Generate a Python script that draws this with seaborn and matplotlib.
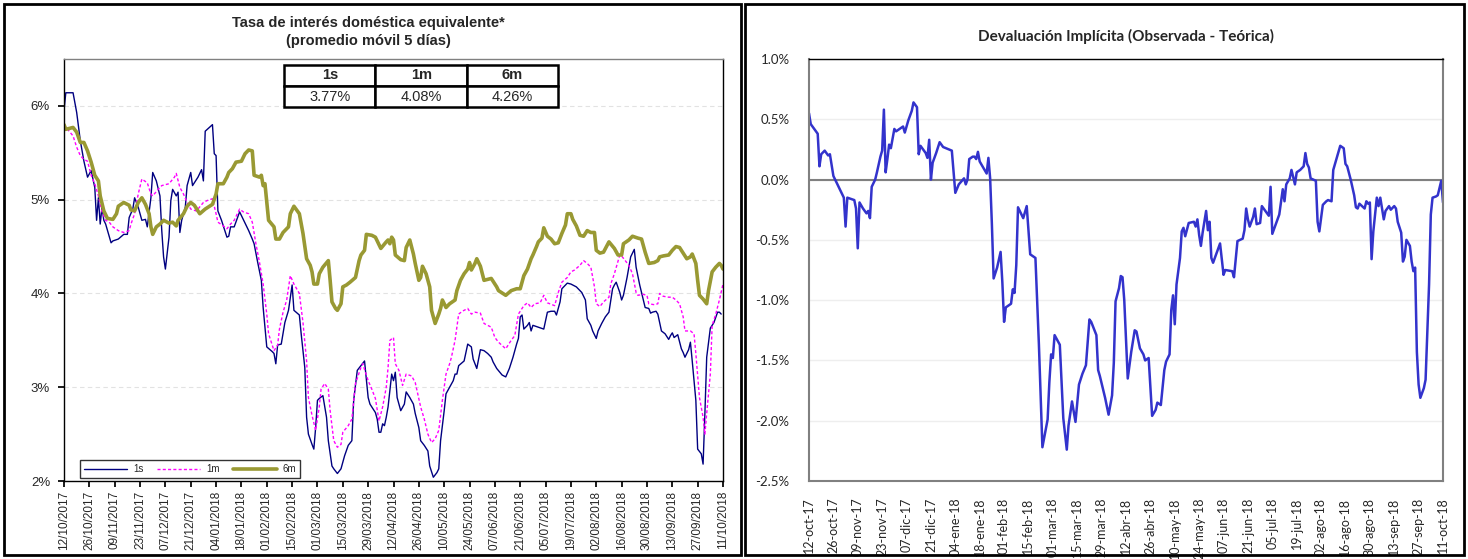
import pandas as pd
import matplotlib.pyplot as plt
import seaborn as sns
from matplotlib.patches import Rectangle
from matplotlib.ticker import FuncFormatter

sns.set_theme(style="white")
plt.rcParams['font.family'] = ['Liberation Sans', 'DejaVu Sans']
plt.rcParams['axes.unicode_minus'] = False

# Fecha base: los datos van en días contados desde el 12/10/2017
fecha0 = pd.Timestamp('2017-10-12')

# --- Tasa de interés doméstica equivalente (%) ---
dias_1s = [0, 1, 5, 7, 9, 11, 13, 15, 17, 18, 19, 20, 21, 22, 23, 26, 27, 30, 33, 35, 36, 38, 39, 41, 43, 45, 46,
           48, 49, 51, 53, 54, 55, 56, 58, 59, 60, 62, 63, 64, 65, 67, 68, 70, 71, 74, 76, 77, 78, 82, 83, 84, 85,
           87, 90, 91, 92, 94, 97, 99, 102, 104, 105, 107, 109, 110, 112, 115, 116, 117, 118, 120, 122, 124, 126,
           127, 130, 131, 133, 134, 135, 137, 138, 139, 140, 141, 143, 145, 146, 148, 149, 151, 153, 155, 157, 159,
           160, 162, 164, 166, 168, 169, 172, 173, 174, 175, 176, 177, 178, 179, 181, 182, 183, 184, 185, 186, 188,
           189, 191, 193, 194, 196, 197, 199, 201, 202, 204, 206, 207, 208, 210, 211, 213, 215, 216, 217, 218, 221,
           222, 223, 225, 226, 228, 230, 232, 234, 236, 237, 239, 242, 244, 246, 248, 250, 251, 252, 253, 254, 256,
           257, 258, 259, 262, 265, 267, 269, 271, 272, 274, 275, 278, 280, 283, 286, 288, 289, 291, 292, 294, 295,
           297, 299, 301, 303, 304, 305, 307, 308, 309, 311, 313, 315, 316, 318, 320, 321, 323, 324, 325, 327, 328,
           329, 330, 332, 334, 335, 336, 337, 339, 341, 342, 343, 345, 346, 347, 349, 350, 352, 353, 354, 355, 357,
           359, 361, 362, 363]
tasa_1s = [5.95, 6.14, 6.14, 5.93, 5.63, 5.41, 5.24, 5.31, 5.13, 4.78, 5.02, 4.74, 4.92, 4.78, 4.74, 4.54, 4.56,
           4.58, 4.63, 4.63, 4.81, 4.90, 5.02, 4.92, 4.78, 4.79, 4.71, 5.02, 5.29, 5.20, 5.04, 4.67, 4.39, 4.26,
           4.60, 4.99, 5.11, 5.04, 5.08, 4.65, 4.78, 4.92, 5.15, 5.29, 5.15, 5.24, 5.32, 5.20, 5.73, 5.80, 5.49,
           5.47, 4.88, 4.78, 4.60, 4.61, 4.71, 4.71, 4.87, 4.79, 4.67, 4.58, 4.53, 4.33, 4.14, 3.85, 3.43, 3.38,
           3.36, 3.25, 3.45, 3.46, 3.69, 3.82, 4.09, 3.82, 3.77, 3.57, 3.21, 2.68, 2.50, 2.39, 2.34, 2.57, 2.86,
           2.88, 2.91, 2.68, 2.43, 2.16, 2.13, 2.08, 2.13, 2.27, 2.38, 2.43, 2.86, 3.18, 3.23, 3.28, 2.89, 2.82,
           2.73, 2.66, 2.52, 2.52, 2.61, 2.59, 2.68, 2.79, 3.14, 3.07, 3.16, 2.89, 2.82, 2.75, 2.82, 2.95, 2.89,
           2.82, 2.72, 2.57, 2.43, 2.38, 2.32, 2.16, 2.04, 2.09, 2.13, 2.43, 2.75, 2.93, 3.00, 3.07, 3.14, 3.14,
           3.23, 3.28, 3.37, 3.46, 3.43, 3.30, 3.20, 3.40, 3.39, 3.36, 3.32, 3.27, 3.20, 3.13, 3.11, 3.20, 3.32,
           3.46, 3.52, 3.75, 3.77, 3.62, 3.66, 3.69, 3.60, 3.66, 3.64, 3.62, 3.80, 3.81, 3.81, 3.77, 3.91, 4.05,
           4.11, 4.10, 4.07, 4.01, 3.93, 3.73, 3.66, 3.60, 3.52, 3.60, 3.68, 3.75, 3.80, 4.05, 4.09, 4.12, 4.01,
           3.93, 3.98, 4.17, 4.39, 4.47, 4.28, 4.09, 3.93, 3.85, 3.84, 3.79, 3.80, 3.81, 3.78, 3.69, 3.60, 3.57,
           3.51, 3.55, 3.58, 3.53, 3.56, 3.41, 3.37, 3.32, 3.40, 3.48, 3.28, 2.86, 2.34, 2.29, 2.18, 2.72, 3.32,
           3.63, 3.69, 3.80, 3.80, 3.78]

dias_1m = [0, 2, 5, 7, 9, 11, 13, 15, 17, 19, 21, 23, 25, 27, 30, 33, 36, 37, 39, 41, 43, 46, 48, 49, 52, 54, 58,
           61, 62, 64, 66, 68, 70, 73, 74, 77, 79, 82, 84, 85, 88, 90, 92, 94, 97, 99, 102, 104, 106, 108, 110, 112,
           113, 115, 116, 118, 119, 121, 123, 125, 127, 130, 132, 134, 135, 137, 139, 141, 142, 144, 146, 147, 149,
           151, 153, 154, 157, 159, 161, 164, 165, 168, 170, 172, 174, 176, 178, 179, 180, 182, 183, 185, 187, 189,
           192, 194, 197, 199, 201, 203, 205, 207, 209, 211, 213, 214, 216, 218, 220, 223, 225, 227, 230, 232, 236,
           238, 240, 244, 247, 249, 251, 254, 256, 258, 260, 263, 265, 267, 271, 273, 275, 278, 280, 282, 285, 287,
           289, 291, 293, 294, 296, 298, 301, 302, 304, 307, 308, 310, 312, 314, 316, 317, 320, 322, 323, 326, 328,
           329, 331, 334, 336, 338, 340, 342, 343, 346, 348, 349, 351, 353, 354, 355, 357, 358, 360, 362, 364]
tasa_1m = [5.80, 5.75, 5.68, 5.56, 5.47, 5.43, 5.41, 5.26, 5.17, 5.04, 4.87, 4.78, 4.76, 4.71, 4.67, 4.65, 4.67,
           4.74, 4.85, 5.06, 5.22, 5.18, 5.06, 5.04, 5.11, 5.15, 5.17, 5.24, 5.28, 5.13, 5.06, 4.97, 4.90, 4.88,
           4.90, 4.97, 4.99, 5.01, 4.85, 4.76, 4.72, 4.69, 4.74, 4.78, 4.90, 4.87, 4.85, 4.76, 4.53, 4.33, 4.10,
           3.78, 3.57, 3.45, 3.39, 3.45, 3.62, 3.80, 3.93, 4.19, 4.10, 4.00, 3.69, 3.28, 2.89, 2.70, 2.54, 2.79,
           2.98, 3.04, 2.98, 2.75, 2.43, 2.36, 2.39, 2.52, 2.59, 2.66, 3.04, 3.21, 3.25, 3.07, 2.98, 2.88, 2.64,
           2.79, 3.00, 3.21, 3.50, 3.53, 3.25, 3.18, 3.02, 3.14, 3.12, 3.05, 2.79, 2.66, 2.50, 2.41, 2.45, 2.54,
           2.86, 3.14, 3.25, 3.32, 3.50, 3.78, 3.81, 3.84, 3.78, 3.80, 3.79, 3.68, 3.64, 3.53, 3.48, 3.41, 3.50,
           3.55, 3.78, 3.87, 3.90, 3.85, 3.89, 3.90, 3.98, 3.90, 3.87, 4.01, 4.12, 4.17, 4.23, 4.25, 4.30, 4.35,
           4.32, 4.28, 4.07, 3.89, 3.86, 3.91, 3.96, 4.10, 4.21, 4.41, 4.40, 4.35, 4.30, 4.21, 4.01, 3.98, 3.99,
           3.98, 3.89, 3.88, 3.89, 4.00, 3.97, 3.96, 3.96, 3.93, 3.89, 3.75, 3.60, 3.60, 3.57, 3.36, 2.89, 2.68,
           2.50, 2.72, 3.14, 3.66, 3.78, 3.93, 4.10]

dias_6m = [0, 1, 5, 7, 9, 11, 13, 15, 17, 19, 20, 22, 24, 27, 29, 30, 33, 36, 37, 39, 41, 43, 45, 47, 48, 49, 51,
           53, 55, 58, 60, 62, 63, 66, 68, 70, 72, 75, 78, 82, 84, 85, 88, 90, 91, 93, 95, 98, 100, 102, 104, 105,
           108, 109, 110, 111, 113, 116, 117, 119, 121, 124, 125, 127, 130, 132, 134, 136, 137, 138, 140, 141, 143,
           146, 147, 148, 150, 151, 153, 154, 156, 158, 161, 163, 164, 166, 167, 170, 172, 175, 178, 179, 180, 181,
           182, 183, 186, 188, 189, 191, 193, 194, 196, 197, 198, 200, 202, 203, 205, 207, 208, 209, 211, 213, 216,
           217, 219, 221, 223, 224, 225, 227, 228, 230, 232, 236, 239, 240, 244, 247, 250, 252, 254, 256, 258, 259,
           261, 262, 264, 265, 267, 269, 271, 273, 275, 277, 278, 280, 281, 283, 285, 287, 289, 291, 293, 294, 296,
           298, 301, 304, 306, 308, 309, 312, 314, 317, 319, 321, 323, 326, 328, 329, 331, 334, 336, 338, 340, 342,
           344, 346, 347, 349, 350, 351, 353, 355, 356, 358, 360, 362, 363, 364]
tasa_6m = [5.80, 5.75, 5.77, 5.72, 5.61, 5.61, 5.52, 5.40, 5.26, 5.20, 5.04, 4.88, 4.80, 4.79, 4.85, 4.93, 4.97,
           4.94, 4.89, 4.88, 4.97, 5.02, 4.95, 4.85, 4.71, 4.63, 4.71, 4.74, 4.78, 4.75, 4.76, 4.72, 4.78, 4.85,
           4.93, 4.97, 4.94, 4.85, 4.90, 4.95, 5.06, 5.17, 5.17, 5.24, 5.29, 5.33, 5.40, 5.41, 5.49, 5.53, 5.52,
           5.26, 5.24, 5.26, 5.15, 5.17, 4.78, 4.71, 4.58, 4.58, 4.65, 4.71, 4.85, 4.93, 4.85, 4.64, 4.37, 4.30,
           4.23, 4.10, 4.10, 4.21, 4.28, 4.35, 4.14, 3.91, 3.84, 3.82, 3.89, 4.07, 4.09, 4.12, 4.17, 4.35, 4.41,
           4.46, 4.63, 4.62, 4.60, 4.48, 4.55, 4.57, 4.53, 4.60, 4.57, 4.41, 4.36, 4.35, 4.49, 4.57, 4.42, 4.32,
           4.14, 4.17, 4.29, 4.21, 4.07, 3.82, 3.68, 3.78, 3.84, 3.93, 3.85, 3.89, 3.93, 4.03, 4.14, 4.21, 4.26,
           4.33, 4.25, 4.32, 4.37, 4.29, 4.14, 4.16, 4.07, 4.03, 3.98, 4.03, 4.05, 4.05, 4.19, 4.26, 4.37, 4.41,
           4.50, 4.55, 4.59, 4.70, 4.61, 4.58, 4.53, 4.54, 4.64, 4.73, 4.85, 4.85, 4.79, 4.72, 4.62, 4.61, 4.67,
           4.65, 4.65, 4.46, 4.43, 4.44, 4.55, 4.48, 4.41, 4.41, 4.53, 4.57, 4.61, 4.59, 4.58, 4.44, 4.32, 4.33,
           4.35, 4.39, 4.40, 4.41, 4.46, 4.50, 4.49, 4.43, 4.37, 4.39, 4.42, 4.32, 4.14, 3.98, 3.94, 3.89, 4.03,
           4.23, 4.28, 4.32, 4.30, 4.26]

plazos = ['1s', '1m', '6m']
ultimos = ['3.77%', '4.08%', '4.26%']

# --- Devaluación implícita (observada - teórica), % ---
dias_dev = [0, 1, 3, 5, 6, 7, 9, 11, 12, 14, 15, 17, 19, 20, 21, 22, 24, 26, 27, 28, 29, 31, 33, 34, 35, 36, 38,
            39, 41, 42, 43, 44, 45, 46, 47, 49, 50, 52, 54, 55, 57, 59, 60, 62, 63, 64, 67, 68, 69, 70, 71, 73, 75,
            77, 82, 84, 86, 89, 90, 91, 92, 94, 95, 96, 97, 98, 100, 102, 103, 104, 105, 106, 108, 110, 111, 112,
            113, 116, 117, 118, 119, 120, 123, 125, 127, 130, 132, 134, 137, 138, 139, 140, 141, 144, 146, 148, 149,
            151, 153, 155, 157, 159, 161, 162, 165, 166, 167, 170, 172, 174, 175, 176, 178, 179, 180, 181, 183, 185,
            187, 188, 190, 192, 193, 195, 197, 199, 200, 202, 204, 205, 207, 208, 209, 210, 211, 213, 214, 215, 216,
            218, 221, 222, 223, 224, 225, 226, 228, 229, 230, 231, 232, 234, 236, 238, 239, 243, 244, 246, 249, 250,
            251, 252, 253, 255, 256, 257, 259, 260, 262, 264, 265, 266, 268, 270, 272, 273, 274, 276, 277, 279, 280,
            282, 284, 285, 286, 287, 288, 291, 292, 293, 295, 297, 298, 300, 301, 303, 304, 305, 307, 308, 309, 311,
            313, 314, 315, 316, 319, 320, 321, 322, 323, 324, 326, 327, 328, 330, 331, 333, 334, 336, 337, 338, 340,
            341, 342, 343, 345, 346, 347, 348, 349, 350, 351, 353, 354, 356, 357, 358, 360, 361, 363, 364]
devaluacion = [0.55, 0.46, 0.42, 0.38, 0.11, 0.21, 0.24, 0.20, 0.21, 0.03, 0.00, -0.06, -0.12, -0.15, -0.39, -0.15,
               -0.16, -0.17, -0.24, -0.57, -0.19, -0.24, -0.28, -0.26, -0.32, -0.06, 0.00, 0.06, 0.19, 0.24, 0.58,
               0.06, 0.17, 0.29, 0.26, 0.42, 0.40, 0.42, 0.44, 0.39, 0.49, 0.57, 0.64, 0.60, 0.21, 0.28, 0.22, 0.18,
               0.33, 0.00, 0.14, 0.22, 0.31, 0.27, 0.24, -0.11, -0.04, 0.01, -0.04, 0.00, 0.17, 0.19, 0.19, 0.17,
               0.23, 0.15, 0.10, 0.05, 0.18, 0.01, -0.37, -0.82, -0.73, -0.60, -0.85, -1.18, -1.06, -1.03, -0.91,
               -0.94, -0.71, -0.23, -0.32, -0.22, -0.62, -0.65, -1.37, -2.22, -1.99, -1.68, -1.45, -1.48, -1.29,
               -1.37, -1.98, -2.24, -2.04, -1.84, -2.01, -1.70, -1.61, -1.54, -1.16, -1.18, -1.29, -1.58, -1.63,
               -1.81, -1.95, -1.79, -1.52, -1.01, -0.90, -0.80, -0.81, -1.00, -1.65, -1.43, -1.25, -1.26, -1.40,
               -1.45, -1.50, -1.48, -1.96, -1.91, -1.85, -1.87, -1.58, -1.51, -1.45, -1.08, -0.96, -1.20, -0.87,
               -0.65, -0.43, -0.40, -0.47, -0.36, -0.35, -0.39, -0.33, -0.46, -0.55, -0.44, -0.26, -0.42, -0.35,
               -0.65, -0.69, -0.61, -0.53, -0.79, -0.75, -0.76, -0.81, -0.51, -0.49, -0.42, -0.24, -0.33, -0.39,
               -0.31, -0.24, -0.37, -0.36, -0.22, -0.26, -0.30, -0.06, -0.45, -0.37, -0.29, -0.08, -0.18, -0.04,
               0.01, 0.08, -0.04, 0.06, 0.08, 0.11, 0.22, 0.13, 0.10, 0.01, -0.01, -0.35, -0.43, -0.21, -0.18,
               -0.17, -0.18, 0.08, 0.18, 0.23, 0.28, 0.26, 0.13, 0.11, 0.00, -0.13, -0.23, -0.24, -0.20, -0.24,
               -0.18, -0.20, -0.19, -0.66, -0.43, -0.15, -0.22, -0.15, -0.33, -0.26, -0.22, -0.25, -0.22, -0.24,
               -0.35, -0.44, -0.68, -0.64, -0.50, -0.55, -0.68, -0.76, -0.73, -1.43, -1.70, -1.81, -1.73, -1.66,
               -0.87, -0.29, -0.15, -0.14, -0.13, -0.01, -0.19]

meses = {1: 'ene', 2: 'feb', 3: 'mar', 4: 'abr', 5: 'may', 6: 'jun',
         7: 'jul', 8: 'ago', 9: 'sep', 10: 'oct', 11: 'nov', 12: 'dic'}


def fechas(dias):
    return fecha0 + pd.to_timedelta(dias, unit='D')


W, H = 1468, 559
fig = plt.figure(figsize=(W / 100, H / 100), dpi=100)
fig.patch.set_facecolor('white')

# marcos negros de cada panel
fig.add_artist(Rectangle((4 / W, 4 / H), 737 / W, 551 / H, transform=fig.transFigure,
                         fill=False, edgecolor='black', lw=2))
fig.add_artist(Rectangle((745 / W, 4 / H), 719 / W, 551 / H, transform=fig.transFigure,
                         fill=False, edgecolor='black', lw=2))

ax1 = fig.add_axes([64 / W, 78 / H, 659 / W, 422 / H])
ax2 = fig.add_axes([809 / W, 78 / H, 634 / W, 422 / H])

# ---------------- Panel izquierdo ----------------
sns.lineplot(x=fechas(dias_1s), y=tasa_1s, ax=ax1, color='#000080', lw=1.0,
             estimator=None, sort=False, label='1s')
sns.lineplot(x=fechas(dias_1m), y=tasa_1m, ax=ax1, color='#ff00ff', lw=1.0,
             linestyle=(0, (2.2, 1.6)), estimator=None, sort=False, label='1m')
sns.lineplot(x=fechas(dias_6m), y=tasa_6m, ax=ax1, color='#999933', lw=2.6,
             estimator=None, sort=False, label='6m')

ax1.set_ylim(2, 6.5)
ax1.set_yticks([2, 3, 4, 5, 6])
ax1.yaxis.set_major_formatter(FuncFormatter(lambda v, _: f'{v:.0f}%'))
ax1.set_xlim(fechas([0])[0], fechas([364])[0])
ticks1 = fechas(list(range(0, 365, 14)))
ax1.set_xticks(ticks1)
ax1.set_xticklabels([t.strftime('%d/%m/%Y') for t in ticks1], rotation=90, fontsize=8.5)
ax1.tick_params(axis='y', labelsize=9.5, left=True, length=4, color='black', pad=6)
ax1.tick_params(axis='x', bottom=True, length=4, color='black', pad=3)
ax1.grid(axis='y', linestyle=(0, (4, 3)), color='#e2e2e2', lw=0.8)
ax1.set_xlabel('')
ax1.set_ylabel('')
for lado, sp in ax1.spines.items():
    sp.set_color('#808080' if lado == 'top' else 'black')
    sp.set_linewidth(1.0)

leg = ax1.legend(loc='lower left', bbox_to_anchor=(0.024, 0.007, 0.334, 0.059), mode='expand',
                 ncol=3, fontsize=7, frameon=True, fancybox=False, edgecolor='black',
                 handlelength=4.5, borderaxespad=0, handletextpad=0.6)
leg.get_frame().set_linewidth(1.0)

tabla = ax1.table(cellText=[plazos, ultimos], cellLoc='center',
                  bbox=[0.334, 0.886, 0.416, 0.100])
tabla.auto_set_font_size(False)
tabla.set_fontsize(10.5)
tabla.set_zorder(5)
for (fila, col), celda in tabla.get_celld().items():
    celda.set_linewidth(1.8)
    celda.set_edgecolor('black')
    celda.set_facecolor('white')
    if fila == 0:
        celda.get_text().set_fontweight('bold')

fig.text(368 / W, 1 - 32 / H, 'Tasa de interés doméstica equivalente*\n(promedio móvil 5 días)',
         ha='center', va='center', fontsize=10.5, fontweight='bold', linespacing=1.45)

# ---------------- Panel derecho ----------------
sns.lineplot(x=fechas(dias_dev), y=devaluacion, ax=ax2, color='#3333cc', lw=1.8,
             estimator=None, sort=False)
ax2.axhline(0, color='#808080', lw=1.5, zorder=1)
ax2.set_ylim(-2.5, 1.0)
ax2.set_yticks([-2.5, -2.0, -1.5, -1.0, -0.5, 0.0, 0.5, 1.0])
ax2.yaxis.set_major_formatter(FuncFormatter(lambda v, _: f'{v:.1f}%'))
ax2.set_xlim(fechas([0])[0], fechas([364])[0])
ticks2 = fechas(list(range(0, 365, 14)))
ax2.set_xticks(ticks2)
ax2.set_xticklabels([f'{t:%d}-{meses[t.month]}-{t:%y}' for t in ticks2], rotation=90,
                    fontsize=9, family=['Lato', 'DejaVu Sans'])
for lab in ax2.get_yticklabels():
    lab.set_family(['Lato', 'DejaVu Sans'])
ax2.tick_params(axis='y', labelsize=9.5, left=False, pad=8)
ax2.tick_params(axis='x', bottom=False, pad=6)
ax2.grid(axis='y', color='#eeeeee', lw=1.0)
ax2.set_xlabel('')
ax2.set_ylabel('')
for lado, sp in ax2.spines.items():
    sp.set_color('black' if lado == 'top' else '#808080')
    sp.set_linewidth(1.0 if lado == 'top' else 1.5)

fig.text(1126 / W, 1 - 36 / H, 'Devaluación Implícita (Observada - Teórica)', ha='center', va='center',
         fontsize=11, fontweight='bold', family=['Lato', 'DejaVu Sans'])

fig.savefig('out.png', dpi=100)
